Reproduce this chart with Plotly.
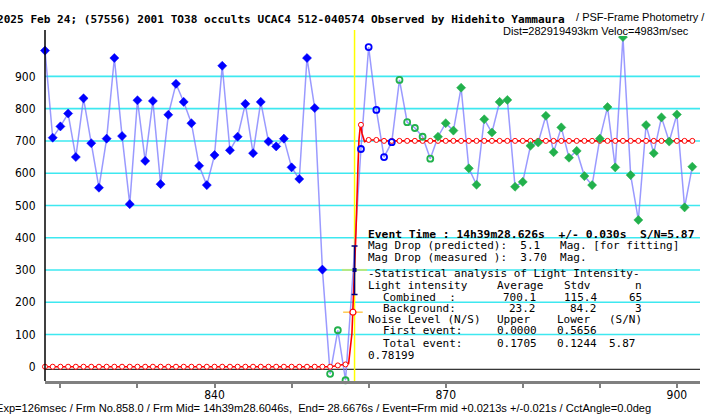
import plotly.graph_objects as go

# ---------------- data ----------------
frames = list(range(818, 903))
flux = [980, 710, 745, 785, 650, 832, 693, 555, 707, 957,
        715, 504, 826, 638, 824, 566, 781, 877, 821, 755,
        623, 563, 656, 933, 671, 713, 815, 662, 821, 698,
        683, 707, 618, 582, 957, 802, 301, -22, 113, -42,
        300, 675, 991, 796, 650, 696, 889, 758, 740, 713,
        645, 713, 755, 732, 865, 615, 564, 767, 726, 821,
        827, 558, 573, 685, 695, 778, 665, 742, 648, 669,
        591, 563, 707, 805, 618, 1022, 594, 455, 749, 662,
        773, 698, 782, 494, 620]
# point classes in frame order (run lengths)
group_runs = [("BF", 37), ("GO", 3), ("EV", 1), ("BO", 5), ("GO", 5), ("GF", 34)]

model_frames = [818, 819, 820, 821, 822, 823, 824, 825, 826, 827,
                828, 829, 830, 831, 832, 833, 834, 835, 836, 837,
                838, 839, 840, 841, 842, 843, 844, 845, 846, 847,
                848, 849, 850, 851, 852, 853, 854, 855, 856, 857,
                857.4, 857.83, 858.35, 858.61, 858.74, 858.91, 859, 859.13, 859.47,
                860, 861, 862, 863, 864, 865, 866, 867, 868, 869,
                870, 871, 872, 873, 874, 875, 876, 877, 878, 879,
                880, 881, 882, 883, 884, 885, 886, 887, 888, 889,
                890, 891, 892, 893, 894, 895, 896, 897, 898, 899,
                900, 901, 902]
model_flux = [0, 0, 0, 0, 0, 0, 0, 0, 0, 0,
              0, 0, 0, 0, 0, 0, 0, 0, 0, 0,
              0, 0, 0, 0, 0, 0, 0, 0, 0, 0,
              0, 0, 0, 0, 0, 0, 0, 0, 4, 7,
              10, 103, 414, 620, 703, 745, 750, 724, 698,
              703, 703, 700.1, 700.1, 700.1, 700.1, 700.1, 700.1, 700.1, 700.1,
              700.1, 700.1, 700.1, 700.1, 700.1, 700.1, 700.1, 700.1, 700.1, 700.1,
              700.1, 700.1, 700.1, 700.1, 700.1, 700.1, 700.1, 700.1, 700.1, 700.1,
              700.1, 700.1, 700.1, 700.1, 700.1, 700.1, 700.1, 700.1, 700.1, 700.1,
              700.1, 700.1, 700.1]

event_frame = 858.17
event_level = 300
event_err_up = 74
event_err_dn = 76
model_event_frame = 857.96
model_event_flux = 169
model_event_next = 310
baseline_level = -8

x_range = [818, 903]
y_range = [-44.3, 1025.3]
grid_levels = [100, 200, 300, 400, 500, 600, 700, 800, 900]
ytick_vals = [0, 100, 200, 300, 400, 500, 600, 700, 800, 900]
xtick_vals = [820, 830, 840, 850, 860, 870, 880, 890, 900]
xtick_text = ["", "", "840", "", "", "870", "", "", "900"]

title_text = "2025 Feb 24; (57556) 2001 TO38 occults UCAC4 512-040574 Observed by Hidehito Yammaura"
subtitle_text = " / PSF-Frame Photometry /"
dist_text = "Dist=282919493km Veloc=4983m/sec"
footer_text = ("Exp=126msec / Frm No.858.0 / Frm Mid= 14h39m28.6046s,  End= 28.6676s / "
               "Event=Frm mid +0.0213s +/-0.021s / CctAngle=0.0deg")

# ---------------- figure ----------------
W, H = 707, 418
PL, PR, PT, PB = 45, 700, 36, 381


def fx(px):
    return (px - PL) / (PR - PL)


def fy(py):
    return (PB - py) / (PB - PT)


groups = []
for g, n in group_runs:
    groups += [g] * n

fig = go.Figure()

# light curve line
fig.add_trace(go.Scatter(x=frames, y=flux, mode="lines",
                         line=dict(color="rgba(120,120,255,0.75)", width=1.5),
                         hoverinfo="skip"))

# model line
fig.add_trace(go.Scatter(x=model_frames[:42] + [model_event_frame, event_frame] + model_frames[42:],
                         y=model_flux[:42] + [model_event_flux, model_event_next] + model_flux[42:],
                         mode="lines", line=dict(color="#ff0000", width=1.6),
                         hoverinfo="skip"))

# model markers at whole frames
mx = [f for f in model_frames if float(f).is_integer()]
my = [v for f, v in zip(model_frames, model_flux) if float(f).is_integer()]
fig.add_trace(go.Scatter(x=mx, y=my, mode="markers", cliponaxis=False,
                         marker=dict(symbol="circle", size=5, color="white",
                                     line=dict(color="#ff0000", width=1))))

styles = {
    "BF": dict(symbol="diamond", size=7, color="#0000ff", line=dict(color="#0000ff", width=0.5)),
    "BO": dict(symbol="circle-open", size=6, color="#0000ff", line=dict(width=1.8)),
    "GO": dict(symbol="circle-open", size=6, color="#22b14c", line=dict(width=1.8)),
    "GF": dict(symbol="diamond", size=7, color="#22b14c", line=dict(color="#22b14c", width=0.5)),
}
for g, st in styles.items():
    xs = [f for f, gg in zip(frames, groups) if gg == g]
    ys = [v for v, gg in zip(flux, groups) if gg == g]
    fig.add_trace(go.Scatter(x=xs, y=ys, mode="markers", cliponaxis=(g == "GF"),
                             marker=st))

# event markers
fig.add_trace(go.Scatter(x=[event_frame], y=[event_level], mode="markers", cliponaxis=False,
                         marker=dict(symbol="line-ew-open", size=18, line=dict(color="#ffff00", width=2))))
fig.add_trace(go.Scatter(x=[event_frame], y=[event_level], mode="markers", cliponaxis=False,
                         marker=dict(symbol="square", size=4, color="#000080"),
                         error_y=dict(type="data", symmetric=False, array=[event_err_up],
                                      arrayminus=[event_err_dn], color="#000080",
                                      thickness=1.5, width=3)))
fig.add_trace(go.Scatter(x=[model_event_frame], y=[model_event_flux], mode="markers", cliponaxis=False,
                         marker=dict(symbol="line-ew-open", size=14, line=dict(color="#ff00ff", width=1.5))))
fig.add_trace(go.Scatter(x=[model_event_frame], y=[model_event_flux], mode="markers", cliponaxis=False,
                         marker=dict(symbol="circle", size=6, color="white",
                                     line=dict(color="#ff0000", width=1.2))))

shapes = []
for lv in grid_levels:
    shapes.append(dict(type="line", xref="paper", yref="y", x0=0, x1=1, y0=lv, y1=lv,
                       line=dict(color="#3ee8f0", width=1.6), layer="below"))
shapes.append(dict(type="line", xref="paper", yref="y", x0=0, x1=1, y0=baseline_level,
                   y1=baseline_level, line=dict(color="black", width=1), layer="below"))
# y axis line (extends a little above plot)
shapes.append(dict(type="line", xref="paper", yref="paper", x0=0, x1=0, y0=0, y1=fy(30),
                   line=dict(color="black", width=1.5)))
# event vertical line
shapes.append(dict(type="line", xref="x", yref="paper", x0=event_frame, x1=event_frame,
                   y0=0, y1=fy(30), line=dict(color="#ffff00", width=1.5), layer="below"))

mono = "DejaVu Sans Mono, Liberation Mono, monospace"
sans = "Liberation Sans, Arial, sans-serif"
ann = []


def txt(s, px, py, font=mono, size=11, bold=False, anchor="left", color="black"):
    ann.append(dict(text=("<b>%s</b>" % s) if bold else s, x=fx(px), y=fy(py),
                    xref="paper", yref="paper", xanchor=anchor, yanchor="middle",
                    showarrow=False, borderpad=0,
                    font=dict(family=font, size=size, color=color)))


txt(title_text, -4, 20, font=mono, size=11.1, bold=True)
txt(subtitle_text, 572, 17.5, font=sans, size=11)
txt(dist_text, 690, 31, font=sans, size=11, anchor="right")
txt(footer_text, -5, 408, font=sans, size=11.1)

# statistics box
txt("Event Time : 14h39m28.626s  +/- 0.030s  S/N=5.87", 367, 234, bold=True, size=11.3)
txt("Mag Drop (predicted):  5.1   Mag. [for fitting]", 367, 245.5)
txt("Mag Drop (measured ):  3.70  Mag.", 367, 257)
txt("-Statistical analysis of Light Intensity-", 367, 273)
rows = [
    (285, [("Light intensity", 367, "left"), ("Average", 496, "left"), ("Stdv", 563, "left"), ("n", 643, "right")]),
    (297, [("Combined  :", 382, "left"), ("700.1", 537, "right"), ("115.4", 598, "right"), ("65", 643, "right")]),
    (308, [("Background:", 382, "left"), ("23.2", 537, "right"), ("84.2", 598, "right"), ("3", 643, "right")]),
    (319, [("Noise Level (N/S)", 367, "left"), ("Upper", 496, "left"), ("Lower", 556, "left"), ("(S/N)", 608, "left")]),
    (330, [("First event:", 382, "left"), ("0.0000", 496, "left"), ("0.5656", 556, "left")]),
    (343, [("Total event:", 382, "left"), ("0.1705", 496, "left"), ("0.1244", 556, "left"), ("5.87", 608, "left")]),
    (355, [("0.78199", 367, "left")]),
]
for py, segs in rows:
    for s, px, a in segs:
        txt(s, px, py, anchor=a)

fig.update_layout(
    width=W, height=H,
    margin=dict(l=PL, r=W - PR, t=PT, b=H - PB),
    paper_bgcolor="white", plot_bgcolor="white",
    showlegend=False,
    shapes=shapes, annotations=ann,
    xaxis=dict(range=x_range, tickvals=xtick_vals, ticktext=xtick_text,
               ticks="outside", ticklen=4, tickwidth=1.5, tickcolor="#808080",
               ticklabelstandoff=-3,
               showline=True, linecolor="#808080", linewidth=2.5,
               showgrid=False, zeroline=False,
               tickfont=dict(family="Liberation Sans Narrow, DejaVu Sans Condensed, Liberation Sans",
                             size=12, color="black")),
    yaxis=dict(range=y_range, tickvals=ytick_vals, ticks="outside", ticklen=6,
               tickcolor="rgba(0,0,0,0)", showline=False, showgrid=False, zeroline=False,
               tickfont=dict(family="Liberation Sans Narrow, DejaVu Sans Condensed, Liberation Sans",
                             size=12, color="black")),
)

fig.write_html("out.html", config={"displayModeBar": False},
               post_script="document.body.style.margin='0px';document.body.style.overflow='hidden';")
